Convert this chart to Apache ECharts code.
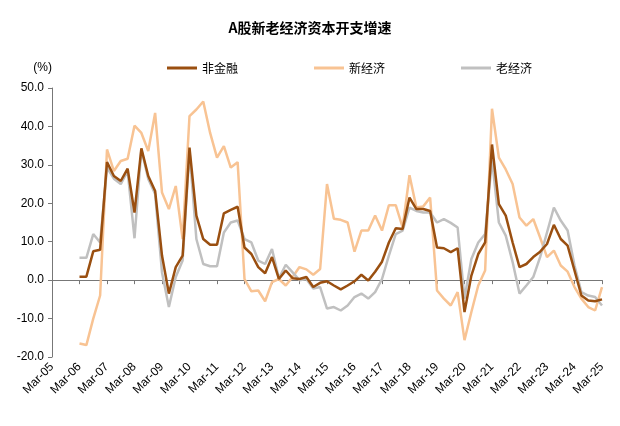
<!DOCTYPE html>
<html><head><meta charset="utf-8">
<script src="https://cdn.jsdelivr.net/npm/echarts@6/dist/echarts.min.js"></script>
<style>html,body{margin:0;padding:0;background:#fff}#c{width:620px;height:426px}</style>
</head><body><div id="c"></div>
<script>
const categories = [];
for (let y = 5; y <= 25; y++) {
  const yy = (y < 10 ? '0' : '') + y;
  ['Mar','Jun','Sep','Dec'].forEach(m => { if (!(y === 25 && m !== 'Mar')) categories.push(m + '-' + yy); });
}
const pad = [null, null, null, null];
const nonFinance = pad.concat([0.9,0.9,7.5,7.9,30.7,27.1,25.8,29,17.6,34.3,27.1,23.2,6.4,-3.5,3.4,6.4,34.5,16.8,10.7,9.2,9.2,17.4,18.3,19.1,
 8.5,6.8,3.4,1.8,6,0.3,2.5,0.5,0.3,0.8,-1.8,-0.7,-0.3,-1.4,-2.4,-1.4,-0.3,1.4,-0.1,2.2,4.8,9.8,13.5,13.3,21.5,18.5,
 18.5,18,8.5,8.3,7.3,8.3,-8.3,1.2,6.8,9.8,35.3,19.8,16.8,9.8,3.4,4.2,6,7.4,9.4,14.4,10.7,9,2.5,-4,-5.3,-5.5,-5]);
const newEconomy = pad.concat([-16.5,-16.9,-10,-4,34,28.4,31,31.6,40.2,38.3,33.6,43.5,22.8,18.5,24.5,10.7,42.7,44.4,46.5,38.3,31.9,34.9,29.3,30.7,
 0.3,-2.9,-2.7,-5.5,-0.5,0.3,-1.4,0.8,3.4,2.8,1.4,2.9,25,16,15.7,15,7.4,12.9,12.9,16.8,12.9,19.5,19.5,13.7,27.3,18.9,
 19.2,21.5,-2.7,-4.8,-6.6,-3.1,-15.6,-8.3,-1.4,2.5,44.6,31.9,28.8,25,16.3,14.2,15.9,11.1,6,7.7,3.8,2.2,-1.8,-4.8,-7,-7.9,-1.8]);
const oldEconomy = pad.concat([5.8,5.8,12,9.8,29.3,26.4,25,28.4,10.9,34,26.3,22.4,2,-7,0.8,5.1,33.6,10.7,4.2,3.6,3.6,12.4,15,15.5,
 10.7,9.8,5.1,4.2,8.1,0.5,4,2,0,0.3,-2.2,-1.8,-7.4,-7,-7.9,-6.6,-4.4,-3.5,-4.8,-3.1,0.3,6.4,12,12.9,18.9,18,
 17.6,17.6,15,15.9,14.9,13.7,-4.8,5.5,9.8,12,31.4,15,11.6,4.7,-3.5,-1.4,0.8,6,12.4,18.9,15.5,12.9,3.8,-3.1,-4,-4.4,-6.6]);

const chart = echarts.init(document.getElementById('c'));
const lbl = {color:'#000', fontSize:12, fontFamily:'Liberation Sans, Arial'};
chart.setOption({
  animation:false,
  title:{text:'A股新老经济资本开支增速', left:'center', top:16, textStyle:{fontSize:14, fontWeight:'bold', color:'#000', fontFamily:'Noto Sans CJK SC'}},
  legend:{top:57, left:162, itemGap:76, itemWidth:30, itemHeight:3, icon:'rect',
    textStyle:{fontSize:12, color:'#000', fontFamily:'Noto Sans CJK SC'}},
  grid:{left:52, right:18, top:88, bottom:69},
  xAxis:[
    {type:'category', data:categories, boundaryGap:false,
     axisLine:{onZero:true, lineStyle:{color:'#777'}}, axisTick:{interval:3, length:4, inside:false, lineStyle:{color:'#777'}},
     axisLabel:{show:false}},
    {type:'category', data:categories, boundaryGap:false, position:'bottom',
     axisLine:{show:false}, axisTick:{show:false},
     axisLabel:Object.assign({interval:3, rotate:45, margin:8}, lbl)}
  ],
  yAxis:{type:'value', min:-20, max:50, interval:10, name:'(%)', nameLocation:'end', nameGap:14,
    nameTextStyle:Object.assign({align:'right', padding:[0,0,0,0]}, lbl),
    axisLine:{show:true, lineStyle:{color:'#777'}}, axisTick:{show:true, length:4, lineStyle:{color:'#777'}},
    splitLine:{show:false}, axisLabel:Object.assign({formatter:v=>v.toFixed(1)}, lbl)},
  series:[
    {name:'非金融', type:'line', data:nonFinance, symbol:'none', lineStyle:{width:2.5, color:'#9A4F10'}, itemStyle:{color:'#9A4F10'}, z:4},
    {name:'新经济', type:'line', data:newEconomy, symbol:'none', lineStyle:{width:2.5, color:'#F8C393'}, itemStyle:{color:'#F8C393'}, z:2},
    {name:'老经济', type:'line', data:oldEconomy, symbol:'none', lineStyle:{width:2.5, color:'#C0C0C0'}, itemStyle:{color:'#C0C0C0'}, z:3}
  ]
});
</script></body></html>
